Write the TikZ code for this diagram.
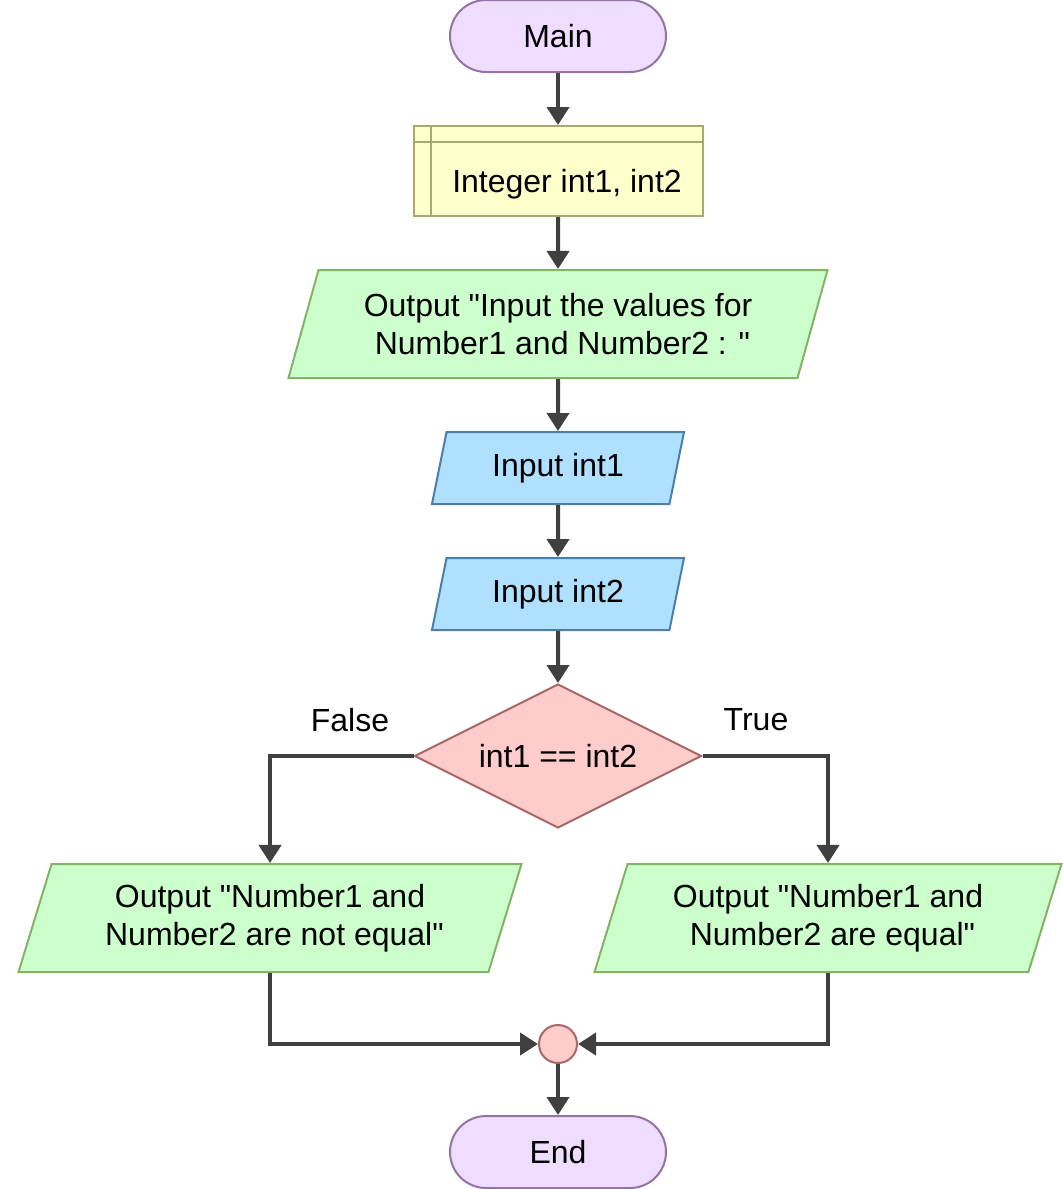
\documentclass[tikz,border=0pt]{standalone}
\usepackage{fontspec}
\setmainfont{Liberation Sans}
\usetikzlibrary{shapes.geometric,arrows.meta}
\definecolor{termfill}{HTML}{EEDDFF}
\definecolor{termline}{HTML}{9673A6}
\definecolor{declfill}{HTML}{FFFFCC}
\definecolor{declline}{HTML}{A8A870}
\definecolor{outfill}{HTML}{CCFFCC}
\definecolor{outline}{HTML}{82B366}
\definecolor{infill}{HTML}{B0E0FF}
\definecolor{inline}{HTML}{4A7FA8}
\definecolor{condfill}{HTML}{FFCCCC}
\definecolor{condline}{HTML}{A86868}
\definecolor{flowgray}{HTML}{404040}
\newcommand{\qt}{\textquotedbl}
\tikzset{
	terminal/.style={draw=termline, fill=termfill, line width=1pt, rounded corners=18pt, minimum width=108pt, minimum height=36pt, inner sep=0pt},
	declbox/.style={draw=declline, fill=declfill, line width=1pt, minimum width=144.5pt, minimum height=45pt, inner sep=0pt},
	io/.style={trapezium, trapezium left angle=64, trapezium right angle=116, trapezium stretches body, line width=1pt, inner sep=0pt, align=center},
	outbox/.style={io, draw=outline, fill=outfill, minimum height=54pt},
	inbox/.style={io, draw=inline, fill=infill, minimum width=126pt, minimum height=36pt},
	condbox/.style={diamond, aspect=2, draw=condline, fill=condfill, line width=1pt, minimum width=143.5pt, minimum height=72pt, inner sep=0pt},
	joinpt/.style={circle, draw=condline, fill=condfill, line width=1pt, minimum size=19pt, inner sep=0pt},
	flow/.style={draw=flowgray, line width=2pt, -{Triangle[length=9pt,width=11pt]}},
}
\begin{document}
\begin{tikzpicture}[x=0.5pt, y=-0.5pt, font=\fontsize{16}{19}\selectfont]
	\useasboundingbox (0,0) rectangle (1063,1189);
	\node [terminal](main)at (558,36) {Main};
	\node [declbox](decl)at (558,171) {\hspace*{9pt}\raisebox{-6.5pt}[\height][\depth]{Integer int1, int2}};
	\draw [draw=declline, line width=1pt](decl.north west) ++(9pt,0) -- ++(0,-45pt);
	\draw [draw=declline, line width=1pt](decl.north west) ++(0,-8.5pt) -- ++(144.5pt,0);
	\node [outbox, minimum width=269.5pt](out1)at (558,324) {Output \qt Input the values for\\~Number1 and Number2 : \qt};
	\node [inbox](in1)at (558,468) {Input int1};
	\node [inbox](in2)at (558,594) {Input int2};
	\node [condbox](cond)at (558,756) {int1 == int2};
	\node (lfalse)at (350,720) {False};
	\node (ltrue)at (756,720) {True};
	\node [outbox, minimum width=251.5pt](fout)at (270,918) {Output \qt Number1 and\\~Number2 are not equal\qt};
	\node [outbox, minimum width=233.5pt](tout)at (828,918) {Output \qt Number1 and\\~Number2 are equal\qt};
	\node [joinpt](join)at (558,1044) {};
	\node [terminal](end)at (558,1152) {End};
	% connectors
	\draw [flow](main)--(decl);
	\draw [flow](decl)--(out1);
	\draw [flow](out1)--(in1);
	\draw [flow](in1)--(in2);
	\draw [flow](in2)--(cond);
	\draw [flow](cond.west)-|(fout.north);
	\draw [flow](cond.east)-|(tout.north);
	\draw [flow](fout.south)|-(join.west);
	\draw [flow](tout.south)|-(join.east);
	\draw [flow](join)--(end);
\end{tikzpicture}
\end{document}
